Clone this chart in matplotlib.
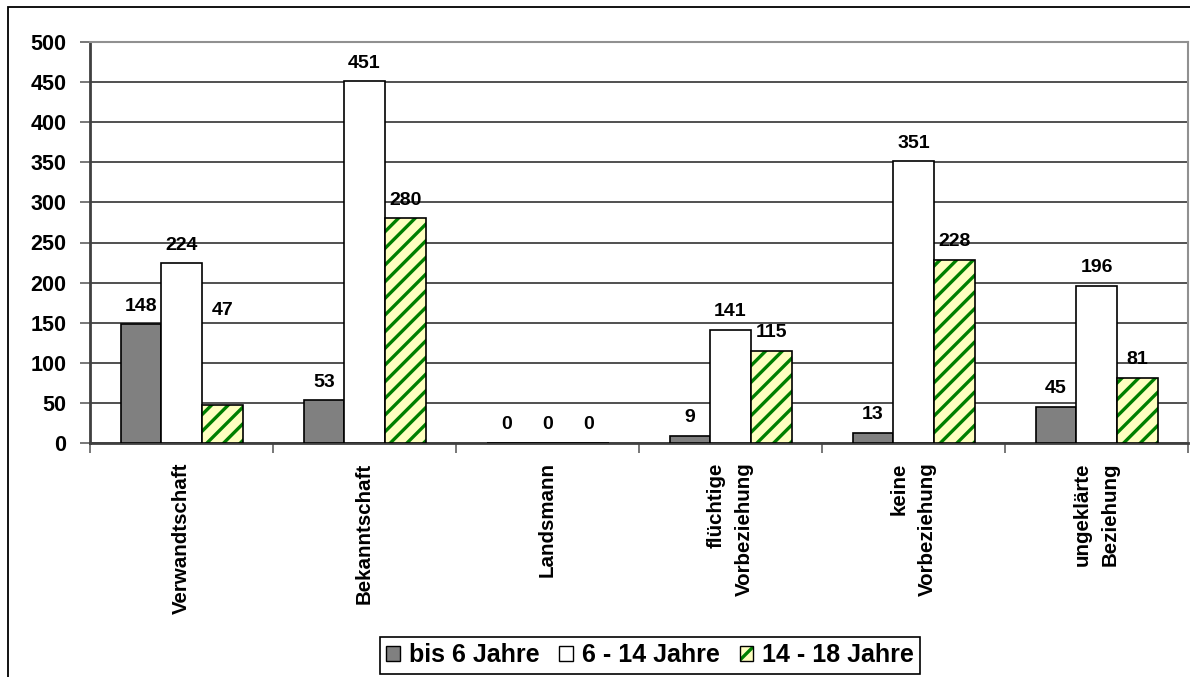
import matplotlib
matplotlib.use("Agg")
from matplotlib import pyplot as plt
from matplotlib.patches import Patch, Rectangle
import numpy as np

plt.rcParams['font.family'] = ['Liberation Sans', 'DejaVu Sans']
plt.rcParams['font.weight'] = 'bold'
plt.rcParams['hatch.linewidth'] = 2.4

# data
categories = ['Verwandtschaft', 'Bekanntschaft', 'Landsmann',
              'flüchtige\nVorbeziehung', 'keine\nVorbeziehung', 'ungeklärte\nBeziehung']
series_names = ['bis 6 Jahre', '6 - 14 Jahre', '14 - 18 Jahre']
bis6 = [148, 53, 0, 9, 13, 45]
j6_14 = [224, 451, 0, 141, 351, 196]
j14_18 = [47, 280, 0, 115, 228, 81]
yticks = [0, 50, 100, 150, 200, 250, 300, 350, 400, 450, 500]

W, H = 1190, 677
fig = plt.figure(figsize=(W / 100, H / 100), dpi=100)
ax = fig.add_axes([90 / W, 1 - 443 / H, (1188 - 90) / W, (443 - 42) / H])

# outer chart border (runs off the right and bottom edge)
fig.patches.append(Rectangle((8 / W, -0.05), 1.1, 1 - 7 / H + 0.05, transform=fig.transFigure,
                             fill=False, edgecolor='black', linewidth=1.3, zorder=0))

x = np.arange(len(categories))
bw = 2 / 9  # gap width 50%

b1 = ax.bar(x - bw, bis6, bw, color='#808080', edgecolor='black', linewidth=1.2, zorder=3)
b2 = ax.bar(x, j6_14, bw, color='white', edgecolor='black', linewidth=1.2, zorder=3)
b3h = ax.bar(x + bw, j14_18, bw, color='#FFFFC0', edgecolor='#008000', hatch='//',
             linewidth=0, zorder=3)
b3 = ax.bar(x + bw, j14_18, bw, fill=False, edgecolor='black', linewidth=1.2, zorder=4)

# value labels
extra = {(2, 0): 55}
for si, (vals, off) in enumerate(zip([bis6, j6_14, j14_18], [-bw, 0, bw])):
    for gi, v in enumerate(vals):
        ax.annotate(str(v), (x[gi] + off, v), xytext=(0, 7 + extra.get((si, gi), 0)),
                    textcoords='offset points', ha='center', va='bottom',
                    fontsize=14, fontweight='bold', zorder=5)

ax.set_xlim(-0.5, len(categories) - 0.5)
ax.set_ylim(0, 500)
ax.set_yticks(yticks)
ax.tick_params(axis='y', labelsize=15.5, length=7, width=1.2, color='#606060', pad=10)
ax.grid(axis='y', color='#202020', linewidth=1.1, zorder=0)

# category boundaries as major ticks, labels on minor ticks
ax.set_xticks(np.arange(len(categories) + 1) - 0.5)
ax.set_xticklabels([])
ax.tick_params(axis='x', which='major', length=7, width=1.2, color='#606060')
ax.set_xticks(x, minor=True)
ax.set_xticklabels(categories, minor=True, rotation=90, ha='center', va='top',
                   fontsize=14.8, fontweight='bold', multialignment='right', linespacing=1.6)
ax.tick_params(axis='x', which='minor', length=0, pad=14)

for s in ['top', 'right']:
    ax.spines[s].set_color('#909090')
    ax.spines[s].set_linewidth(1.5)
ax.spines['left'].set_color('#404040')
ax.spines['left'].set_linewidth(2)
ax.spines['bottom'].set_color('#404040')
ax.spines['bottom'].set_linewidth(2)

handles = [Patch(facecolor='#808080', edgecolor='black'),
           Patch(facecolor='white', edgecolor='black'),
           (Patch(facecolor='#FFFFC0', edgecolor='#008000', hatch='//', linewidth=0),
            Patch(fill=False, edgecolor='black'))]
leg = fig.legend(handles, series_names, loc='center', bbox_to_anchor=(650 / W, 1 - 655.5 / H),
                 ncol=3, fancybox=False, framealpha=1, edgecolor='black',
                 prop={'size': 18, 'weight': 'bold'}, handlelength=0.55, handleheight=0.55,
                 handletextpad=0.35, columnspacing=0.8, borderpad=0.25)
leg.get_frame().set_linewidth(1.2)

fig.savefig('out.png', dpi=100)
